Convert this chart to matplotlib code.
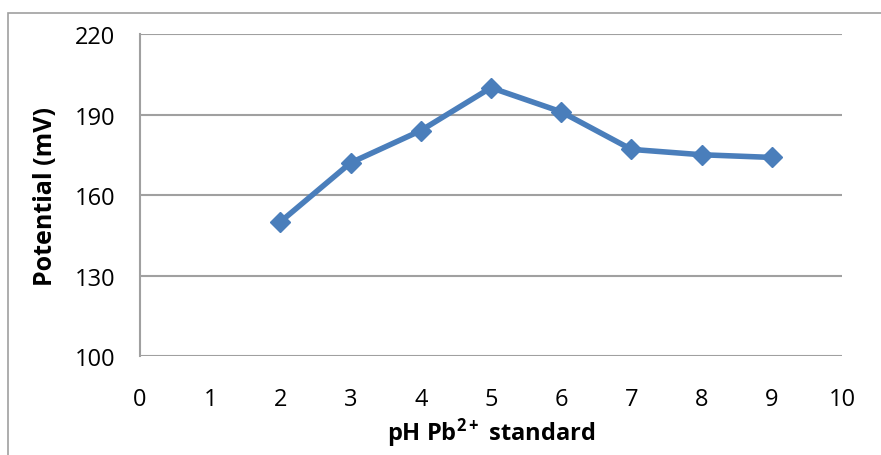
import matplotlib
matplotlib.use("Agg")
import matplotlib.pyplot as plt
from matplotlib.patches import Rectangle

ph = [2, 3, 4, 5, 6, 7, 8, 9]
potential = [150, 172, 184, 200, 191, 177, 175, 174]
xticks = [0, 1, 2, 3, 4, 5, 6, 7, 8, 9, 10]
yticks = [100, 130, 160, 190, 220]

plt.rcParams['font.family'] = ['Open Sans', 'DejaVu Sans']
plt.rcParams['mathtext.fontset'] = 'custom'
plt.rcParams['mathtext.rm'] = 'Open Sans'
plt.rcParams['mathtext.bf'] = 'Open Sans:bold'

fig = plt.figure(figsize=(8.81, 4.56), dpi=100)
ax = fig.add_axes([140 / 881, 1 - 357 / 456, 702 / 881, 322 / 456])

# outer chart border
fig.patches.append(Rectangle((8 / 881, -0.1), 1.0, 1 - 14 / 456 + 0.1, transform=fig.transFigure,
                             fill=False, edgecolor='#a0a0a0', linewidth=1.2))

ax.plot(ph, potential, color='#4a7ebb', linewidth=4, marker='D', markersize=10,
        markeredgecolor='#4a7ebb', zorder=3)

ax.set_xlim(0, 10)
ax.set_ylim(100, 220)
ax.set_xticks(xticks)
ax.set_yticks(yticks)
ax.grid(axis='y', color='#a0a0a0', linewidth=1.5)
ax.set_axisbelow(True)
for s in ['top', 'right', 'bottom']:
    ax.spines[s].set_visible(False)
ax.spines['left'].set_color('#a0a0a0')
ax.spines['left'].set_linewidth(1.5)
ax.tick_params(axis='both', length=0, labelsize=17)
ax.tick_params(axis='y', pad=18)
ax.tick_params(axis='x', pad=22)

ax.set_xlabel(r'pH Pb$\mathbf{^{2+}}$ standard', fontsize=17, fontweight='bold', labelpad=4)
ax.set_ylabel('Potential (mV)', fontsize=18, fontweight='bold', labelpad=12)

fig.savefig('out.png', dpi=100)
